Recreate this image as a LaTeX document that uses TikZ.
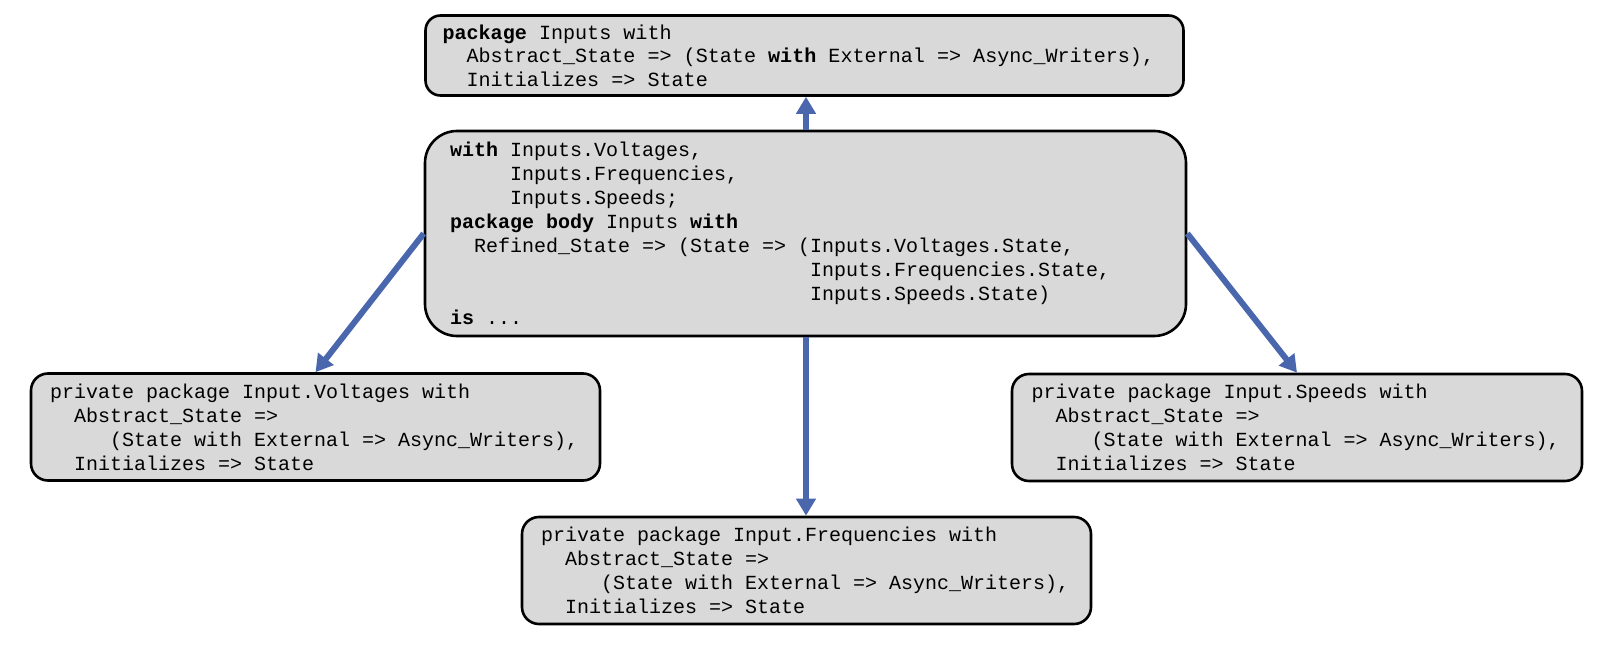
\documentclass[tikz,border=0pt]{standalone}
\usepackage{fontspec}
\setmonofont{Liberation Mono}
\usetikzlibrary{arrows.meta,calc}
\definecolor{boxgray}{HTML}{D9D9D9}
\definecolor{arrowblue}{HTML}{4A67AE}
\newcommand\ind[1]{\hspace*{#1\fontcharwd\font`x}}
\newcommand\s{\nobreak\hspace{\fontcharwd\font`x}}
\newcommand\monoset[2]{\ttfamily\fontsize{#1}{#2}\selectfont}
\tikzset{
  codebox/.style={draw=black, fill=boxgray, line width=2.6pt, align=left,
    inner ysep=0pt},
  topbox/.style={codebox, rounded corners=15pt, text width=724pt, inner xsep=17pt,
    minimum height=80pt, font=\monoset{20.1}{23.6}},
  midbox/.style={codebox, rounded corners=32pt, text width=711pt, inner xsep=25pt,
    minimum height=205pt, font=\monoset{20.0}{23.9}},
  privbox/.style={codebox, rounded corners=17pt, text width=531pt, inner xsep=19pt,
    minimum height=107pt, font=\monoset{20.0}{23.9}},
  link/.style={draw=arrowblue, line width=6pt,
    -{Triangle[length=17pt,width=19pt]}}
}
\begin{document}
\begin{tikzpicture}[x=1pt,y=-1pt]
\useasboundingbox (0,0) rectangle (1609,650);
\node[topbox] (top) at (804.5,55.5) {%
\textbf{package}\s Inputs\s with\\
\ind{2}Abstract\_State\s=>\s(State\s\textbf{with}\s External\s=>\s Async\_Writers),\\
\ind{2}Initializes\s=>\s State};
\node[midbox] (mid) at (805.5,233.5) {%
\textbf{with}\s Inputs.Voltages,\\
\ind{5}Inputs.Frequencies,\\
\ind{5}Inputs.Speeds;\\
\textbf{package\s body}\s Inputs\s\textbf{with}\\
\ind{2}Refined\_State\s=>\s(State\s=>\s(Inputs.Voltages.State,\\
\ind{30}Inputs.Frequencies.State,\\
\ind{30}Inputs.Speeds.State)\\
\textbf{is}\s...};
\node[privbox] (lv) at (315.5,427) {%
private\s package\s Input.Voltages\s with\\
\ind{2}Abstract\_State\s=>\\
\ind{5}(State\s with\s External\s=>\s Async\_Writers),\\
\ind{2}Initializes\s=>\s State};
\node[privbox, minimum width=570pt] (rv) at (1297,427.5) {%
private\s package\s Input.Speeds\s with\\
\ind{2}Abstract\_State\s=>\\
\ind{5}(State\s with\s External\s=>\s Async\_Writers),\\
\ind{2}Initializes\s=>\s State};
\node[privbox] (bv) at (806.5,570.5) {%
private\s package\s Input.Frequencies\s with\\
\ind{2}Abstract\_State\s=>\\
\ind{5}(State\s with\s External\s=>\s Async\_Writers),\\
\ind{2}Initializes\s=>\s State};
\draw[link] (mid.north -| 806,0) -- (top.south -| 806,0);
\draw[link] (mid.south -| 806,0) -- (bv.north -| 806,0);
\draw[link] (mid.west) -- (lv.north);
\draw[link] (mid.east) -- (rv.north);
\end{tikzpicture}
\end{document}
